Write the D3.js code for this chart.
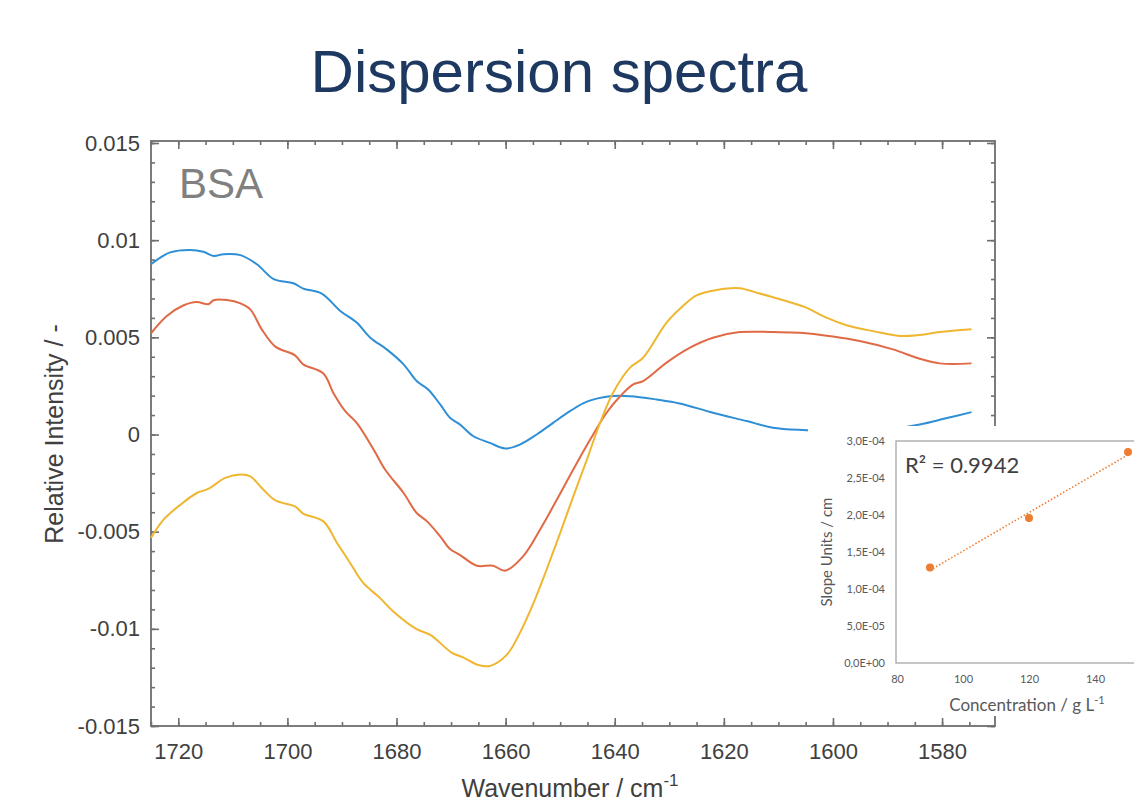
<!DOCTYPE html>
<html>
<head>
  <meta charset="utf-8">
  <script src="https://d3js.org/d3.v7.min.js"></script>
  <title>Dispersion spectra</title>
  <style>
    body { margin: 0; background: #fff; }
    svg { display: block; font-family: "Liberation Sans", Arial, sans-serif; }
    .axis path { display: none; }
    .axis line { stroke: #6e6e6e; stroke-width: 1.6px; }
    .axis text { font-size: 22px; fill: #404040; }
    .inset .axis text { font-family: Lato, "Open Sans", sans-serif; font-size: 11px; fill: #595959; }
    .spec { fill: none; stroke-width: 2px; }
  </style>
</head>
<body>
<div id="chart"></div>
<script>
// spectra: [wavenumber, relative intensity]
var blueSpec = [
  [1725.0,0.00876],[1721.5,0.00937],[1717.8,0.00950],[1715.4,0.00940],[1713.5,0.00919],
  [1711.7,0.00928],[1708.6,0.00923],[1705.6,0.00876],[1702.5,0.00799],[1698.9,0.00778],
  [1697.1,0.00751],[1693.7,0.00725],[1690.3,0.00636],[1687.3,0.00576],[1684.8,0.00498],
  [1681.8,0.00438],[1678.7,0.00361],[1676.3,0.00275],[1674.2,0.00232],[1672.0,0.00155],
  [1670.2,0.00086],[1668.4,0.00052],[1665.9,-0.00009],[1662.9,-0.00043],[1660.1,-0.00072],
  [1657.4,-0.00052],[1654.3,0.00000],[1651.3,0.00060],[1648.2,0.00120],[1645.1,0.00169],
  [1640.9,0.00197],[1637.2,0.00197],[1632.3,0.00180],[1628.1,0.00160],[1622.0,0.00112],
  [1615.8,0.00069],[1611.0,0.00035],[1604.9,0.00022],[1598.8,0.00015],[1591.4,0.00021],
  [1584.1,0.00052],[1579.5,0.00082],[1574.6,0.00115]
];
var orangeSpec = [
  [1725.0,0.00521],[1722.1,0.00610],[1719.0,0.00665],[1716.6,0.00682],[1714.5,0.00670],
  [1713.5,0.00691],[1711.1,0.00692],[1708.6,0.00675],[1706.8,0.00644],[1704.7,0.00541],
  [1702.2,0.00452],[1698.6,0.00407],[1697.1,0.00361],[1693.4,0.00314],[1691.6,0.00215],
  [1689.4,0.00120],[1687.3,0.00060],[1684.2,-0.00077],[1682.1,-0.00180],[1678.7,-0.00301],
  [1676.3,-0.00404],[1674.4,-0.00447],[1672.0,-0.00524],[1670.2,-0.00589],[1668.4,-0.00619],
  [1665.3,-0.00675],[1662.3,-0.00675],[1660.1,-0.00701],[1656.8,-0.00627],[1653.7,-0.00490],
  [1650.6,-0.00335],[1647.6,-0.00180],[1644.5,-0.00026],[1641.5,0.00112],[1639.0,0.00197],
  [1636.6,0.00258],[1634.8,0.00275],[1630.5,0.00370],[1626.2,0.00447],[1622.0,0.00498],
  [1617.1,0.00527],[1611.0,0.00527],[1606.1,0.00524],[1600.0,0.00504],[1595.1,0.00481],
  [1589.0,0.00438],[1584.1,0.00390],[1580.4,0.00366],[1574.6,0.00366]
];
var yellowSpec = [
  [1725.0,-0.00532],[1722.7,-0.00438],[1719.6,-0.00361],[1716.6,-0.00301],[1714.5,-0.00280],
  [1711.4,-0.00223],[1708.6,-0.00206],[1706.8,-0.00215],[1704.7,-0.00275],[1702.2,-0.00339],
  [1698.6,-0.00370],[1697.1,-0.00407],[1693.4,-0.00447],[1690.9,-0.00558],[1688.5,-0.00661],
  [1686.1,-0.00764],[1683.0,-0.00842],[1680.6,-0.00911],[1676.3,-0.01002],[1673.8,-0.01031],
  [1669.9,-0.01122],[1667.7,-0.01148],[1665.0,-0.01186],[1662.9,-0.01191],[1659.8,-0.01134],
  [1657.4,-0.01022],[1654.9,-0.00868],[1652.5,-0.00696],[1650.0,-0.00507],[1647.6,-0.00318],
  [1645.1,-0.00129],[1642.7,0.00060],[1640.3,0.00215],[1637.2,0.00344],[1634.8,0.00395],
  [1630.5,0.00576],[1627.5,0.00661],[1625.0,0.00716],[1621.3,0.00744],[1617.1,0.00753],
  [1614.0,0.00730],[1609.7,0.00696],[1604.9,0.00653],[1601.2,0.00601],[1597.5,0.00562],
  [1592.7,0.00532],[1587.8,0.00507],[1584.1,0.00512],[1580.4,0.00527],[1574.6,0.00541]
];
var specColors = ["#2f8fd6", "#e06a45", "#efb630"];

var xTicks = [1720, 1700, 1680, 1660, 1640, 1620, 1600, 1580];
var yTicks = [-0.015, -0.01, -0.005, 0, 0.005, 0.01, 0.015];
var yTickLabels = ["-0.015", "-0.01", "-0.005", "0", "0.005", "0.01", "0.015"];

// inset: slope vs concentration
var concentration = [90, 120, 150];
var slope = [1.29e-4, 1.96e-4, 2.85e-4];
var insetYTicks = [0, 5e-5, 1e-4, 1.5e-4, 2e-4, 2.5e-4, 3e-4];
var insetYLabels = ["0,0E+00", "5,0E-05", "1,0E-04", "1,5E-04", "2,0E-04", "2,5E-04", "3,0E-04"];
var insetXTicks = [80, 100, 120, 140];

var W = 1134, H = 804;
var box = {left: 151, right: 995, top: 141, bottom: 726};

var svg = d3.select("#chart").append("svg")
  .attr("width", W).attr("height", H);

svg.append("rect").attr("width", W).attr("height", H).attr("fill", "#fff");

// title
svg.append("text")
  .attr("x", 559).attr("y", 92)
  .attr("text-anchor", "middle")
  .style("font-size", "60px")
  .style("fill", "#1d3961")
  .text("Dispersion spectra");

var x = d3.scaleLinear().domain([1725, 1570.3]).range([box.left, box.right]);
var y = d3.scaleLinear().domain([-0.015, 0.015]).range([726, 143]);

var minorX = d3.range(1725, 1570, -5);
var minorY = d3.range(-15, 16).map(function(d){ return d / 1000; });

// box
svg.append("rect")
  .attr("x", box.left).attr("y", box.top)
  .attr("width", box.right - box.left).attr("height", box.bottom - box.top)
  .attr("fill", "none").attr("stroke", "#6e6e6e").attr("stroke-width", 1.8);

// minor ticks all four sides
svg.append("g").attr("class", "axis")
  .attr("transform", "translate(0," + box.bottom + ")")
  .call(d3.axisBottom(x).tickValues(minorX).tickSize(-4).tickFormat(""));
svg.append("g").attr("class", "axis")
  .attr("transform", "translate(0," + box.top + ")")
  .call(d3.axisTop(x).tickValues(minorX).tickSize(-4).tickFormat(""));
svg.append("g").attr("class", "axis")
  .attr("transform", "translate(" + box.left + ",0)")
  .call(d3.axisLeft(y).tickValues(minorY).tickSize(-4).tickFormat(""));
svg.append("g").attr("class", "axis")
  .attr("transform", "translate(" + box.right + ",0)")
  .call(d3.axisRight(y).tickValues(minorY).tickSize(-4).tickFormat(""));

// major ticks + labels
svg.append("g").attr("class", "axis")
  .attr("transform", "translate(0," + box.bottom + ")")
  .call(d3.axisBottom(x).tickValues(xTicks).tickSize(-8).tickPadding(17).tickFormat(d3.format("d")));
svg.append("g").attr("class", "axis")
  .attr("transform", "translate(0," + box.top + ")")
  .call(d3.axisTop(x).tickValues(xTicks).tickSize(-8).tickFormat(""));
svg.append("g").attr("class", "axis")
  .attr("transform", "translate(" + box.left + ",0)")
  .call(d3.axisLeft(y).tickValues(yTicks).tickSize(-8).tickPadding(11)
    .tickFormat(function(d, i){ return yTickLabels[i]; }));
svg.append("g").attr("class", "axis")
  .attr("transform", "translate(" + box.right + ",0)")
  .call(d3.axisRight(y).tickValues(yTicks).tickSize(-8).tickFormat(""));

// axis labels
svg.append("text")
  .attr("transform", "translate(63,434) rotate(-90)")
  .attr("text-anchor", "middle")
  .style("font-size", "25px").style("fill", "#404040")
  .text("Relative Intensity / -");

var xl = svg.append("text")
  .attr("x", 570).attr("y", 797)
  .attr("text-anchor", "middle")
  .style("font-size", "25px").style("fill", "#404040");
xl.append("tspan").text("Wavenumber / cm");
xl.append("tspan").attr("dy", -11).style("font-size", "17px").text("-1");

svg.append("text")
  .attr("x", 179).attr("y", 198)
  .style("font-size", "42px").style("fill", "#808080")
  .text("BSA");

// spectra
var line = d3.line()
  .x(function(d){ return x(d[0]); })
  .y(function(d){ return y(d[1]); })
  .curve(d3.curveCatmullRom.alpha(0.5));

[blueSpec, orangeSpec, yellowSpec].forEach(function(s, i){
  svg.append("path")
    .datum(s)
    .attr("class", "spec")
    .attr("stroke", specColors[i])
    .attr("d", line);
});

// ---- inset ----
var inset = svg.append("g").attr("class", "inset");
inset.append("rect")
  .attr("x", 808).attr("y", 426).attr("width", W - 808).attr("height", 290)
  .attr("fill", "#fff");

var ix = d3.scaleLinear().domain([80, 160]).range([897, 1161]);
var iy = d3.scaleLinear().domain([0, 3e-4]).range([663, 441]);

inset.append("rect")
  .attr("x", 896).attr("y", 441).attr("width", 300).attr("height", 222)
  .attr("fill", "none").attr("stroke", "#a6a6a6").attr("stroke-width", 1.3);

inset.append("g").attr("class", "axis")
  .attr("transform", "translate(896,0)")
  .call(d3.axisLeft(iy).tickValues(insetYTicks).tickSize(0).tickPadding(11)
    .tickFormat(function(d, i){ return insetYLabels[i]; }));
inset.append("g").attr("class", "axis")
  .attr("transform", "translate(0,663)")
  .call(d3.axisBottom(ix).tickValues(insetXTicks).tickSize(0).tickPadding(12)
    .tickFormat(d3.format("d")));

// linear trend (least squares through the three points)
var mx = d3.mean(concentration), my = d3.mean(slope);
var sxy = d3.sum(concentration, function(c, i){ return (c - mx) * (slope[i] - my); });
var sxx = d3.sum(concentration, function(c){ return (c - mx) * (c - mx); });
var k = sxy / sxx, b0 = my - k * mx;
var xr = d3.extent(concentration);
inset.append("line")
  .attr("x1", ix(xr[0])).attr("y1", iy(k * xr[0] + b0))
  .attr("x2", ix(xr[1])).attr("y2", iy(k * xr[1] + b0))
  .attr("stroke", "#ed7d31").attr("stroke-width", 1.6)
  .attr("stroke-dasharray", "1.5,2");

inset.selectAll("circle")
  .data(concentration)
  .enter().append("circle")
  .attr("cx", function(d){ return ix(d); })
  .attr("cy", function(d, i){ return iy(slope[i]); })
  .attr("r", 4)
  .attr("fill", "#ed7d31");

inset.append("text")
  .attr("x", 905).attr("y", 473)
  .style("font-family", "Lato, 'Open Sans', sans-serif")
  .style("font-size", "22px").style("fill", "#404040")
  .text("R² = 0.9942");

inset.append("text")
  .attr("transform", "translate(832,552) rotate(-90)")
  .attr("text-anchor", "middle")
  .style("font-family", "Lato, 'Open Sans', sans-serif")
  .style("font-size", "15px").style("fill", "#595959")
  .text("Slope Units / cm");

var cl = inset.append("text")
  .attr("x", 1027).attr("y", 711)
  .attr("text-anchor", "middle")
  .style("font-family", "Lato, 'Open Sans', sans-serif")
  .style("font-size", "17px").style("fill", "#595959");
cl.append("tspan").text("Concentration / g L");
cl.append("tspan").attr("dy", -7).style("font-size", "11px").text("-1");
</script>
</body>
</html>
